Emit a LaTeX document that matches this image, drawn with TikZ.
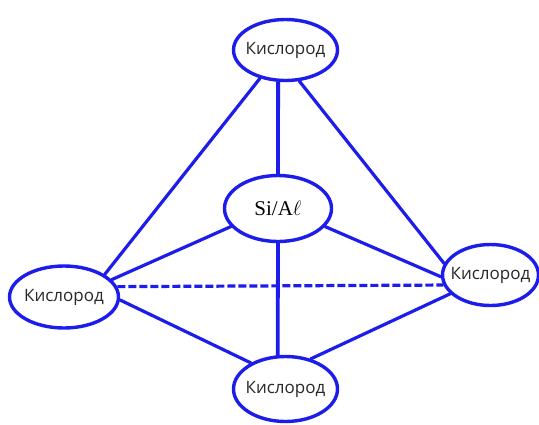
\documentclass[tikz,border=0pt]{standalone}
\usepackage{fontspec}
\setmainfont{Open Sans}
\newfontfamily\siserif{Liberation Serif}
\usetikzlibrary{shapes.geometric}
\definecolor{bondblue}{RGB}{28,28,235}
\definecolor{txtgray}{RGB}{40,40,40}
\begin{document}
\begin{tikzpicture}[x=1pt, y=-1pt, line join=round, line cap=round,
	atom/.style={ellipse, draw=bondblue, line width=3.4pt, fill=white, inner sep=-6pt,
		text=txtgray, font=\fontsize{17}{20}\selectfont},
	bond/.style={draw=bondblue, line width=3.2pt},
	hidden/.style={bond, line cap=butt, dash pattern=on 8pt off 3pt}]
	\useasboundingbox (0,0) rectangle (539,424);
	% atoms
	\node[atom, minimum width=104pt, minimum height=61pt] (otop) at (285.5,50) {Кислород};
	\node[atom, minimum width=107pt, minimum height=66pt,
		font=\siserif\fontsize{21}{23}\selectfont, text=black] (si) at (278,208.5) {Si/A$\ell$};
	\node[atom, minimum width=109pt, minimum height=62pt] (oleft) at (64,297) {Кислород};
	\node[atom, minimum width=96pt, minimum height=61pt] (oright) at (490.5,275) {Кислород};
	\node[atom, minimum width=104pt, minimum height=65pt] (obot) at (285.5,389) {Кислород};
	% bonds
	\draw[bond] (otop.228) -- (oleft.29);
	\draw[bond] (otop.294) -- (oright.166);
	\draw[bond, line width=3.8pt] (otop.257) -- (si.north);
	\draw[bond] (si.201) -- (oleft.20);
	\draw[bond] (si.339) -- (oright.182);
	\draw[bond, line width=3.8pt] (si.south) -- (obot.103);
	\draw[bond] (oleft.-3) -- (obot.143);
	\draw[bond] (oright.205) -- (obot.50);
	\draw[hidden] (oleft.11) -- (oright.192);
\end{tikzpicture}
\end{document}
